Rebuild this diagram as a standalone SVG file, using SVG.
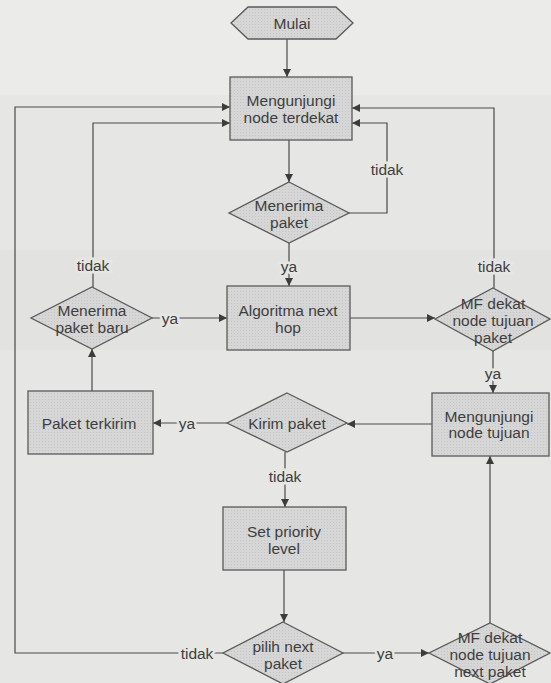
<svg xmlns="http://www.w3.org/2000/svg" width="551" height="683" viewBox="0 0 551 683">
<defs>
<marker id="ah" viewBox="0 0 10 10" refX="10" refY="5" markerWidth="8" markerHeight="8" markerUnits="userSpaceOnUse" orient="auto">
<path d="M0,0 L10,5 L0,10 z" fill="#3c3c3c"/>
</marker>
<pattern id="dots" width="3" height="3" patternUnits="userSpaceOnUse">
<rect width="3" height="3" fill="#d6d6d6"/>
<rect width="1" height="1" fill="#c4c4c4"/>
</pattern>
</defs>
<style>
.shape{fill:url(#dots);stroke:#5a5a5a;stroke-width:1.3}
.t{font-family:"Liberation Sans",Arial,sans-serif;font-size:15.5px;fill:#3e3e3e;text-anchor:middle;dominant-baseline:central}
.c{fill:none;stroke:#4a4a4a;stroke-width:1.2}
.a{marker-end:url(#ah)}
.lbl{font-family:"Liberation Sans",Arial,sans-serif;font-size:15.5px;fill:#3e3e3e;text-anchor:middle;dominant-baseline:central;stroke:#e6e6e4;stroke-width:5;paint-order:stroke}
</style>
<rect width="551" height="683" fill="#e6e6e4"/>
<rect y="0" width="551" height="95" fill="#ebebea"/>
<rect y="250" width="551" height="100" fill="#e2e2e0"/>

<g id="connectors">
<line class="c a" x1="287" y1="39" x2="287" y2="77"/>
<line class="c a" x1="289" y1="140" x2="289" y2="182"/>
<polyline class="c a" points="349,213 387,213 387,123 352,123"/>
<line class="c a" x1="289" y1="243" x2="289" y2="286"/>
<line class="c a" x1="350" y1="318" x2="435" y2="318"/>
<polyline class="c a" points="494,288 494,108 352,108"/>
<line class="c a" x1="493" y1="351" x2="493" y2="393"/>
<line class="c a" x1="432" y1="424" x2="347" y2="424"/>
<line class="c a" x1="227" y1="423" x2="153" y2="423"/>
<line class="c a" x1="92" y1="391" x2="92" y2="349"/>
<polyline class="c a" points="93,287 93,123 230,123"/>
<line class="c a" x1="152" y1="318" x2="227" y2="318"/>
<line class="c a" x1="285" y1="452" x2="285" y2="507"/>
<line class="c a" x1="284" y1="570" x2="284" y2="622"/>
<polyline class="c a" points="223,653 15,653 15,107 230,107"/>
<line class="c a" x1="343" y1="653" x2="429" y2="653"/>
<line class="c a" x1="490" y1="623" x2="490" y2="456"/>
<text class="lbl" x="387" y="169">tidak</text>
<text class="lbl" x="289" y="266">ya</text>
<text class="lbl" x="494" y="266">tidak</text>
<text class="lbl" x="493" y="373">ya</text>
<text class="lbl" x="187" y="423">ya</text>
<text class="lbl" x="93" y="265">tidak</text>
<text class="lbl" x="170" y="318">ya</text>
<text class="lbl" x="285" y="476">tidak</text>
<text class="lbl" x="197" y="653">tidak</text>
<text class="lbl" x="385" y="653">ya</text>
</g>

<g id="mulai">
<polygon class="shape" points="231,23 248,7 336,7 353,23 336,39 248,39"/>
<text class="t" x="292" y="23">Mulai</text>
</g>
<g id="mengunjungi-terdekat">
<rect class="shape" x="230" y="77" width="122" height="63"/>
<text class="t" x="291" y="100">Mengunjungi</text>
<text class="t" x="291" y="117">node terdekat</text>
</g>
<g id="menerima-paket">
<polygon class="shape" points="289,182 349,213 289,243 229,213"/>
<text class="t" x="289" y="205">Menerima</text>
<text class="t" x="289" y="222">paket</text>
</g>
<g id="algoritma">
<rect class="shape" x="227" y="286" width="123" height="64"/>
<text class="t" x="288" y="310">Algoritma next</text>
<text class="t" x="288" y="327">hop</text>
</g>
<g id="menerima-paket-baru">
<polygon class="shape" points="92,287 152,318 92,349 31,318"/>
<text class="t" x="92" y="310">Menerima</text>
<text class="t" x="92" y="327">paket baru</text>
</g>
<g id="mf-dekat-paket">
<polygon class="shape" points="493,288 550,319 493,351 435,319"/>
<text class="t" x="493" y="303">MF dekat</text>
<text class="t" x="493" y="320">node tujuan</text>
<text class="t" x="493" y="337">paket</text>
</g>
<g id="mengunjungi-tujuan">
<rect class="shape" x="432" y="393" width="117" height="63"/>
<text class="t" x="489" y="416">Mengunjungi</text>
<text class="t" x="489" y="432">node tujuan</text>
</g>
<g id="kirim-paket">
<polygon class="shape" points="287,393 347,423 287,452 227,423"/>
<text class="t" x="287" y="423">Kirim paket</text>
</g>
<g id="paket-terkirim">
<rect class="shape" x="28" y="391" width="125" height="63"/>
<text class="t" x="89" y="423">Paket terkirim</text>
</g>
<g id="set-priority">
<rect class="shape" x="223" y="507" width="123" height="63"/>
<text class="t" x="284" y="531">Set priority</text>
<text class="t" x="284" y="548">level</text>
</g>
<g id="pilih-next">
<polygon class="shape" points="283,622 343,653 283,684 223,653"/>
<text class="t" x="283" y="646">pilih next</text>
<text class="t" x="283" y="663">paket</text>
</g>
<g id="mf-dekat-next">
<polygon class="shape" points="490,623 550,653 490,684 429,653"/>
<text class="t" x="490" y="637">MF dekat</text>
<text class="t" x="490" y="654">node tujuan</text>
<text class="t" x="490" y="671">next paket</text>
</g>
</svg>
